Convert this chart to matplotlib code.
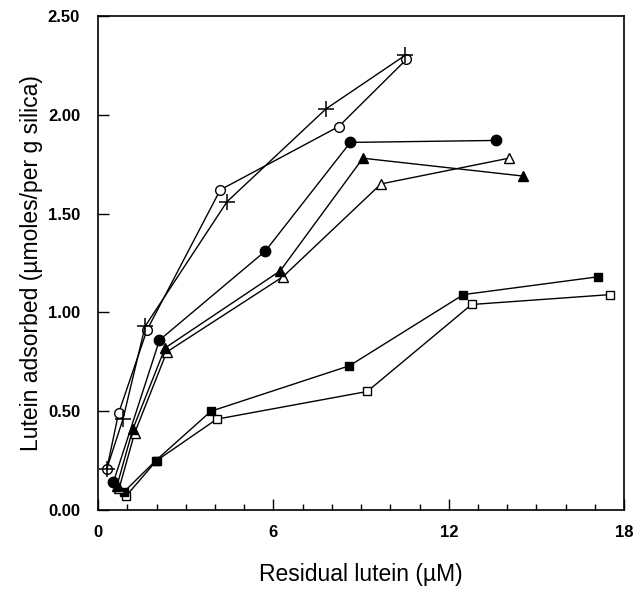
import matplotlib
matplotlib.use("Agg")
import matplotlib.pyplot as plt
from matplotlib.ticker import MultipleLocator

# series: residual lutein (uM) vs lutein adsorbed (umol/g silica)
plus_x = [0.30, 0.85, 1.61, 4.41, 7.80, 10.50]
plus_y = [0.21, 0.46, 0.93, 1.56, 2.03, 2.30]

open_circle_x = [0.30, 0.70, 1.67, 4.18, 8.23, 10.55]
open_circle_y = [0.21, 0.49, 0.91, 1.62, 1.94, 2.28]

filled_circle_x = [0.52, 2.10, 5.72, 8.63, 13.60]
filled_circle_y = [0.14, 0.86, 1.31, 1.86, 1.87]

filled_tri_x = [0.64, 1.19, 2.29, 6.23, 9.06, 14.53]
filled_tri_y = [0.12, 0.41, 0.82, 1.21, 1.78, 1.69]

open_tri_x = [0.72, 1.25, 2.35, 6.32, 9.68, 14.05]
open_tri_y = [0.11, 0.39, 0.80, 1.18, 1.65, 1.78]

filled_sq_x = [0.87, 1.97, 3.86, 8.60, 12.50, 17.10]
filled_sq_y = [0.09, 0.25, 0.50, 0.73, 1.09, 1.18]

open_sq_x = [0.95, 2.00, 4.06, 9.21, 12.78, 17.52]
open_sq_y = [0.07, 0.25, 0.46, 0.60, 1.04, 1.09]

x_ticks = [0, 6, 12, 18]
y_ticks = [0.0, 0.5, 1.0, 1.5, 2.0, 2.5]

plt.rcParams["font.family"] = ["Liberation Sans", "DejaVu Sans"]

fig = plt.figure(figsize=(6.33, 5.89), dpi=100)
ax = fig.add_axes([0.155, 0.134, 0.831, 0.839])

line_kw = dict(color="black", lw=1.0)
ax.plot(open_sq_x, open_sq_y, marker="s", ms=5.5, mfc="white", mec="black", mew=1.0, **line_kw)
ax.plot(filled_sq_x, filled_sq_y, marker="s", ms=5.5, mfc="black", mec="black", **line_kw)
ax.plot(open_tri_x, open_tri_y, marker="^", ms=7.5, mfc="white", mec="black", mew=1.0, **line_kw)
ax.plot(filled_tri_x, filled_tri_y, marker="^", ms=7.5, mfc="black", mec="black", **line_kw)
ax.plot(filled_circle_x, filled_circle_y, marker="o", ms=7.5, mfc="black", mec="black", **line_kw)
ax.plot(open_circle_x, open_circle_y, marker="o", ms=7, mfc="white", mec="black", mew=1.0, **line_kw)
ax.plot(plus_x, plus_y, marker="+", ms=11, mew=1.1, **line_kw)

ax.set_xlim(0, 18)
ax.set_ylim(0, 2.5)
ax.set_xticks(x_ticks, [str(v) for v in x_ticks])
ax.set_yticks(y_ticks, [f"{v:.2f}" for v in y_ticks])
ax.xaxis.set_minor_locator(MultipleLocator(1))
ax.tick_params(which="major", direction="in", length=8, width=1, labelsize=12)
ax.tick_params(which="minor", direction="in", length=4, width=1)
ax.tick_params(axis="x", pad=11)
ax.tick_params(axis="y", pad=13)
for lbl in ax.get_xticklabels() + ax.get_yticklabels():
    lbl.set_fontweight("bold")
for sp in ax.spines.values():
    sp.set_linewidth(1.2)

ax.set_xlabel("Residual lutein (µM)", fontsize=16.5)
ax.set_ylabel("Lutein adsorbed (µmoles/per g silica)", fontsize=16.5)
ax.xaxis.set_label_coords(0.5, -0.107)
ax.yaxis.set_label_coords(-0.104, 0.5)

fig.savefig("out.png", dpi=100)
